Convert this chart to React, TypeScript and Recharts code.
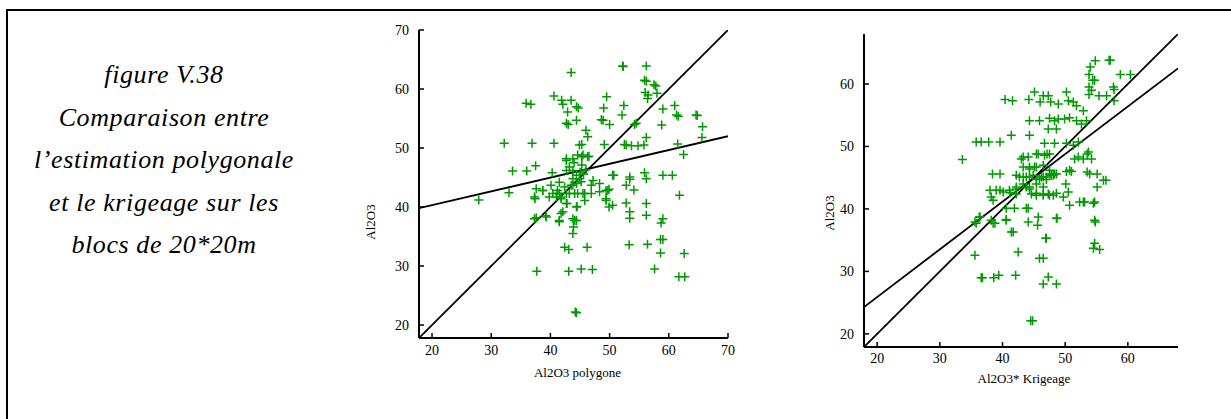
import React from 'react';
import { ScatterChart, Scatter, XAxis, YAxis, ReferenceLine } from 'recharts';

// Al2O3 polygone vs Al2O3 (left panel)
const polygonePoints: [number, number][] = [
  [52.2, 63.9], [52.3, 63.8], [56.2, 63.9], [43.5, 62.8], [55.9, 61.5], [56.2, 61.3], [57.5, 60.7], [57.8, 60.5],
  [56.0, 59.4], [56.5, 59.0], [56.4, 58.4], [58.0, 59.3], [40.6, 58.8], [49.5, 58.7], [41.9, 58.1], [43.5, 58.1],
  [35.9, 57.6], [36.7, 57.4], [42.1, 57.4], [44.4, 57.0], [44.7, 56.8], [49.0, 56.8], [52.4, 57.2], [61.0, 57.2],
  [59.0, 56.6], [42.9, 56.1], [48.6, 54.8], [48.9, 54.7], [52.1, 55.6], [44.4, 54.7], [42.7, 54.2], [43.0, 54.0],
  [50.0, 54.0], [54.2, 54.0], [54.5, 54.2], [58.8, 53.9], [61.3, 55.6], [61.6, 55.4], [64.6, 55.6], [64.8, 55.5],
  [65.7, 53.6], [46.0, 53.0], [46.3, 51.9], [65.6, 51.8], [56.2, 51.8], [32.2, 50.8], [36.9, 50.8], [40.6, 50.8],
  [49.1, 50.6], [52.5, 50.6], [52.8, 50.5], [53.7, 50.4], [54.8, 50.4], [55.8, 50.5], [61.5, 50.7], [44.9, 50.5],
  [45.3, 50.6], [62.5, 48.9], [44.6, 48.8], [45.5, 48.8], [46.5, 48.6], [42.7, 47.9], [37.5, 47.0], [33.6, 46.1],
  [36.0, 46.1], [40.3, 45.8], [42.7, 46.2], [45.3, 47.1], [55.9, 45.8], [56.2, 44.8], [59.0, 45.4], [60.6, 45.4],
  [50.7, 45.4], [53.4, 44.7], [41.5, 44.2], [47.2, 44.5], [48.3, 44.0], [49.9, 43.0], [52.8, 43.7], [54.1, 42.9],
  [40.1, 43.7], [37.6, 43.1], [38.7, 42.8], [33.0, 42.4], [27.9, 41.2], [37.4, 41.4], [39.8, 41.7], [41.1, 42.3],
  [61.8, 42.0], [49.4, 41.4], [42.8, 40.6], [44.5, 40.1], [49.9, 40.0], [52.8, 40.7], [56.2, 40.6], [37.6, 38.2],
  [39.2, 38.5], [41.8, 38.9], [41.5, 37.5], [44.1, 37.7], [53.4, 39.2], [53.4, 38.1], [56.2, 38.6], [58.7, 37.3],
  [59.0, 38.0], [43.9, 36.6], [43.8, 35.5], [42.4, 33.2], [43.1, 32.8], [46.2, 33.2], [53.3, 33.6], [56.4, 33.7],
  [58.6, 34.5], [59.0, 34.5], [58.6, 32.2], [62.6, 32.1], [37.7, 29.1], [43.1, 29.1], [45.2, 29.5], [47.1, 29.4],
  [57.6, 29.5], [61.7, 28.2], [62.7, 28.2], [44.2, 22.2], [44.4, 22.1],
  [45.3, 48.5], [43.8, 48.2], [42.7, 48.2], [46.3, 48.5], [43.2, 46.8], [43.8, 46.2], [44.4, 45.4], [44.9, 44.8],
  [43.8, 44.8], [45.2, 44.3], [44.4, 44.0], [43.5, 43.7], [42.4, 43.4], [41.2, 42.8], [40.4, 42.3], [41.0, 41.7],
  [41.8, 41.7], [43.2, 42.3], [44.6, 42.3], [45.8, 42.3], [46.9, 42.3], [48.3, 42.6], [49.4, 42.8], [50.5, 45.4],
  [53.4, 45.1], [43.8, 43.7], [46.9, 43.7], [49.7, 42.8], [41.5, 42.3], [42.7, 42.3], [44.1, 42.3], [45.5, 42.3],
  [41.8, 41.4], [42.7, 40.6], [45.8, 41.1], [49.4, 41.1], [50.5, 40.3], [44.4, 40.0], [42.1, 39.2], [41.5, 37.7],
  [43.8, 38.0], [44.4, 37.7], [37.3, 41.7], [37.3, 38.0], [39.3, 38.3], [38.7, 42.8], [45.6, 45.6], [46.0, 46.3],
  [44.0, 47.5], [45.0, 45.9],
];

// Al2O3* Krigeage vs Al2O3 (right panel)
const krigeagePoints: [number, number][] = [
  [54.8, 63.7], [57.0, 63.8], [57.2, 63.8], [54.0, 62.7], [53.8, 61.5], [54.4, 60.6], [54.7, 60.6], [58.8, 61.5],
  [60.4, 61.5], [53.8, 59.5], [54.2, 59.0], [57.7, 59.5], [57.8, 59.1], [53.8, 58.3], [55.4, 58.1], [56.6, 58.1],
  [57.8, 57.3], [45.1, 58.7], [46.5, 58.1], [47.3, 58.1], [50.2, 58.7], [40.4, 57.5], [41.6, 57.3], [44.2, 57.5],
  [46.0, 57.1], [47.7, 57.1], [48.9, 56.8], [50.5, 57.3], [51.3, 57.1], [51.8, 56.5], [52.9, 55.7], [44.3, 54.1],
  [45.9, 54.1], [47.5, 54.5], [48.3, 54.1], [48.9, 54.4], [49.9, 54.4], [50.7, 54.6], [51.8, 54.1], [52.6, 53.6],
  [53.4, 54.1], [47.3, 52.8], [48.6, 52.8], [41.4, 51.8], [44.3, 51.8], [35.8, 50.7], [36.6, 50.7], [37.8, 50.7],
  [39.6, 50.7], [46.7, 50.5], [48.3, 50.5], [50.2, 50.5], [51.3, 50.2], [52.1, 50.7], [33.6, 47.9], [43.0, 48.0],
  [44.1, 48.3], [45.7, 48.8], [46.7, 48.6], [47.1, 48.8], [51.5, 48.0], [52.1, 48.3], [53.5, 48.8], [54.2, 48.0],
  [38.4, 45.6], [39.6, 45.6], [42.2, 45.4], [43.3, 45.1], [44.3, 46.7], [45.1, 46.7], [45.4, 44.7], [46.2, 45.1],
  [47.0, 44.7], [47.8, 45.4], [48.3, 45.6], [50.2, 46.0], [51.0, 46.0], [53.5, 45.9], [53.9, 45.6], [55.1, 45.6],
  [55.1, 43.5], [56.1, 44.6], [56.5, 44.6], [38.0, 43.0], [38.2, 41.9], [39.6, 43.0], [40.1, 42.7], [41.2, 42.6],
  [42.2, 42.4], [43.8, 43.5], [44.6, 42.4], [45.4, 42.2], [46.5, 42.4], [47.3, 42.4], [48.1, 42.2], [50.1, 44.0],
  [50.5, 42.7], [49.7, 41.9], [52.3, 41.1], [53.1, 41.1], [54.5, 40.9], [50.7, 40.6], [38.2, 38.2], [38.8, 37.7],
  [35.6, 37.9], [36.4, 38.7], [40.6, 38.3], [41.4, 36.3], [44.1, 40.1], [44.1, 37.9], [45.7, 38.7], [45.6, 37.4],
  [48.7, 38.5], [46.9, 35.3], [54.7, 38.2], [54.8, 37.9], [54.7, 34.5], [55.5, 33.5], [54.5, 33.7], [42.5, 33.1],
  [35.6, 32.6], [45.9, 32.1], [46.5, 32.1], [36.6, 29.0], [36.8, 29.0], [38.6, 29.0], [39.4, 29.4], [42.1, 29.4],
  [47.3, 29.1], [46.5, 28.0], [48.6, 28.0], [44.5, 22.1], [44.8, 22.1],
  [43.3, 48.3], [45.4, 48.8], [47.5, 48.8], [43.3, 46.7], [44.3, 46.4], [45.4, 46.7], [46.5, 47.0], [47.5, 46.2],
  [48.6, 45.6], [42.7, 45.1], [43.8, 45.1], [44.9, 45.4], [45.9, 44.8], [47.0, 45.1], [48.1, 45.4], [42.2, 43.5],
  [43.3, 44.0], [44.3, 43.5], [45.4, 44.0], [46.5, 43.5], [50.7, 46.2], [52.9, 48.0], [53.7, 49.1], [39.0, 43.0],
  [41.1, 43.0], [42.2, 43.2], [44.3, 43.2], [45.4, 42.5], [46.5, 42.2], [47.5, 42.2], [48.6, 42.5], [44.3, 45.1],
  [46.5, 45.1], [47.5, 45.6], [38.5, 41.4], [40.6, 40.1], [41.9, 40.1], [43.8, 40.1], [35.8, 37.7], [36.3, 38.7],
  [38.5, 37.7], [40.6, 38.2], [41.7, 36.3], [47.0, 35.3], [48.6, 38.5], [52.9, 41.1], [54.7, 41.1],
];

const polygoneDomain: [number, number] = [17.8, 70];
const polygoneTicks = [20, 30, 40, 50, 60, 70];
const polygoneFitX = [17.8, 70];
const polygoneFitY = [39.8, 52.0];

const krigeageDomain: [number, number] = [17.9, 68];
const krigeageTicks = [20, 30, 40, 50, 60];
const krigeageFitX = [17.9, 68];
const krigeageFitY = [24.3, 62.5];

const GREEN = '#009a00';
const FONT = 'Liberation Serif, DejaVu Serif, serif';

const Plus = (props: any) => {
  const { cx, cy } = props;
  const h = 4.5;
  return (
    <path
      d={`M${cx - h},${cy}H${cx + h}M${cx},${cy - h}V${cy + h}`}
      stroke={GREEN}
      strokeWidth={1.5}
      fill="none"
    />
  );
};

interface PanelProps {
  left: number;
  width: number;
  height: number;
  margin: { top: number; right: number; bottom: number; left: number };
  yAxisWidth: number;
  points: [number, number][];
  domain: [number, number];
  ticks: number[];
  fitX: number[];
  fitY: number[];
  xTitle: string;
  xTitleDx: number;
  xTitleOffset: number;
  yTitleDx: number;
  yTitleDy: number;
  xTickMargin: number;
}

const Panel: React.FC<PanelProps> = (p) => {
  const data = p.points.map(([x, y]) => ({ x, y }));
  const tickStyle = { fontSize: 14, fill: '#000', fontFamily: FONT };
  const axisLine = { stroke: '#000', strokeWidth: 2 };
  const tickLine = { stroke: '#000', strokeWidth: 1.5 };
  return (
    <div style={{ position: 'absolute', left: p.left, top: 0 }}>
      <ScatterChart width={p.width} height={p.height} margin={p.margin} style={{ fontFamily: FONT }}>
        <XAxis
          xAxisId="b"
          type="number"
          dataKey="x"
          domain={p.domain}
          ticks={p.ticks}
          interval={0}
          allowDataOverflow
          height={30}
          tickSize={-5}
          tickMargin={p.xTickMargin}
          tick={tickStyle}
          axisLine={axisLine}
          tickLine={tickLine}
          label={{ value: p.xTitle, position: 'bottom', offset: p.xTitleOffset, dx: p.xTitleDx, fontSize: 13, fill: '#000', fontFamily: FONT }}
        />
        <XAxis
          xAxisId="t"
          orientation="top"
          type="number"
          dataKey="x"
          domain={p.domain}
          ticks={p.ticks}
          interval={0}
          allowDataOverflow
          height={0}
          tickSize={-5}
          tickFormatter={() => ''}
          axisLine={axisLine}
          tickLine={tickLine}
        />
        <YAxis
          yAxisId="l"
          type="number"
          dataKey="y"
          domain={p.domain}
          ticks={p.ticks}
          interval={0}
          allowDataOverflow
          width={p.yAxisWidth}
          tickSize={-5}
          tickMargin={15}
          tick={tickStyle}
          axisLine={axisLine}
          tickLine={tickLine}
          label={{ value: 'Al2O3', angle: -90, position: 'center', dx: p.yTitleDx, dy: p.yTitleDy, fontSize: 13, fill: '#000', fontFamily: FONT }}
        />
        <YAxis
          yAxisId="r"
          orientation="right"
          type="number"
          dataKey="y"
          domain={p.domain}
          ticks={p.ticks}
          interval={0}
          allowDataOverflow
          width={0}
          tickSize={-5}
          tickFormatter={() => ''}
          axisLine={axisLine}
          tickLine={tickLine}
        />
        <Scatter
          xAxisId="b"
          yAxisId="l"
          data={data}
          shape={<Plus />}
          isAnimationActive={false}
        />
        <ReferenceLine
          xAxisId="b"
          yAxisId="l"
          segment={[{ x: p.domain[0], y: p.domain[0] }, { x: p.domain[1], y: p.domain[1] }]}
          stroke="#000"
          strokeWidth={1.8}
          ifOverflow="hidden"
        />
        <ReferenceLine
          xAxisId="b"
          yAxisId="l"
          segment={[{ x: p.fitX[0], y: p.fitY[0] }, { x: p.fitX[1], y: p.fitY[1] }]}
          stroke="#000"
          strokeWidth={1.8}
          ifOverflow="hidden"
        />
      </ScatterChart>
    </div>
  );
};

export default function App() {
  return (
    <div style={{ position: 'absolute', left: 0, top: 0, width: 1231, height: 419, background: '#fff', overflow: 'hidden', fontFamily: FONT }}>
      <div
        style={{
          position: 'absolute',
          left: 6,
          top: 9,
          width: 1231,
          height: 419,
          borderTop: '2px solid #000',
          borderLeft: '2px solid #000',
        }}
      />
      <div
        style={{
          position: 'absolute',
          left: 7,
          top: 54,
          width: 314,
          textAlign: 'center',
          fontFamily: FONT,
          fontStyle: 'italic',
          fontSize: 26,
          letterSpacing: 0.6,
          lineHeight: '42.5px',
          color: '#000',
          whiteSpace: 'nowrap',
        }}
      >
        figure V.38
        <br />
        Comparaison entre
        <br />
        l’estimation polygonale
        <br />
        et le krigeage sur les
        <br />
        blocs de 20*20m
      </div>
      <Panel
        left={360}
        width={380}
        height={400}
        margin={{ top: 30, right: 12, bottom: 32, left: 0 }}
        yAxisWidth={59}
        points={polygonePoints}
        domain={polygoneDomain}
        ticks={polygoneTicks}
        fitX={polygoneFitX}
        fitY={polygoneFitY}
        xTitle="Al2O3 polygone"
        xTitleDx={4}
        xTitleOffset={0}
        yTitleDx={-19.5}
        yTitleDy={38}
        xTickMargin={12}
      />
      <Panel
        left={800}
        width={400}
        height={400}
        margin={{ top: 34, right: 22, bottom: 23, left: 0 }}
        yAxisWidth={64}
        points={krigeagePoints}
        domain={krigeageDomain}
        ticks={krigeageTicks}
        fitX={krigeageFitX}
        fitY={krigeageFitY}
        xTitle="Al2O3* Krigeage"
        xTitleDx={3}
        xTitleOffset={-3}
        yTitleDx={-3}
        yTitleDy={22.5}
        xTickMargin={11}
      />
    </div>
  );
}
